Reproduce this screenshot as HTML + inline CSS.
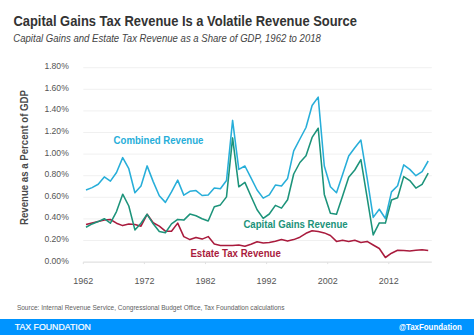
<!DOCTYPE html>
<html><head><meta charset="utf-8">
<style>
html,body{margin:0;padding:0;background:#fff;}
body{width:474px;height:335px;overflow:hidden;position:relative;font-family:"Liberation Sans",sans-serif;}
svg{position:absolute;left:0;top:0;}
.yl{font-size:8.6px;fill:#555555;}
.xl{font-size:9px;fill:#555555;}
</style></head><body>
<svg width="474" height="335" viewBox="0 0 474 335" font-family="Liberation Sans, sans-serif">
<text x="13.4" y="25.8" font-size="14.2" font-weight="bold" fill="#333333" textLength="343.6" lengthAdjust="spacingAndGlyphs">Capital Gains Tax Revenue Is a Volatile Revenue Source</text>
<text x="13.3" y="42.0" font-size="10.2" font-style="italic" fill="#444444" textLength="307.6" lengthAdjust="spacingAndGlyphs">Capital Gains and Estate Tax Revenue as a Share of GDP, 1962 to 2018</text>
<line x1="83.3" x2="431.8" y1="262.1" y2="262.1" stroke="#d9d9d9" stroke-width="1"/><line x1="83.3" x2="431.8" y1="240.5" y2="240.5" stroke="#f0f0f0" stroke-width="1"/><line x1="83.3" x2="431.8" y1="218.9" y2="218.9" stroke="#f0f0f0" stroke-width="1"/><line x1="83.3" x2="431.8" y1="197.3" y2="197.3" stroke="#f0f0f0" stroke-width="1"/><line x1="83.3" x2="431.8" y1="175.7" y2="175.7" stroke="#f0f0f0" stroke-width="1"/><line x1="83.3" x2="431.8" y1="154.1" y2="154.1" stroke="#f0f0f0" stroke-width="1"/><line x1="83.3" x2="431.8" y1="132.5" y2="132.5" stroke="#f0f0f0" stroke-width="1"/><line x1="83.3" x2="431.8" y1="110.9" y2="110.9" stroke="#f0f0f0" stroke-width="1"/><line x1="83.3" x2="431.8" y1="89.3" y2="89.3" stroke="#f0f0f0" stroke-width="1"/><line x1="83.3" x2="431.8" y1="67.7" y2="67.7" stroke="#f0f0f0" stroke-width="1"/>
<line x1="83.3" x2="83.3" y1="262.1" y2="264.1" stroke="#e0e0e0" stroke-width="1"/><line x1="144.4" x2="144.4" y1="262.1" y2="264.1" stroke="#e0e0e0" stroke-width="1"/><line x1="205.5" x2="205.5" y1="262.1" y2="264.1" stroke="#e0e0e0" stroke-width="1"/><line x1="266.6" x2="266.6" y1="262.1" y2="264.1" stroke="#e0e0e0" stroke-width="1"/><line x1="327.7" x2="327.7" y1="262.1" y2="264.1" stroke="#e0e0e0" stroke-width="1"/><line x1="388.8" x2="388.8" y1="262.1" y2="264.1" stroke="#e0e0e0" stroke-width="1"/>
<text x="68.8" y="263.5" text-anchor="end" class="yl">0.00%</text><text x="68.8" y="241.9" text-anchor="end" class="yl">0.20%</text><text x="68.8" y="220.3" text-anchor="end" class="yl">0.40%</text><text x="68.8" y="198.7" text-anchor="end" class="yl">0.60%</text><text x="68.8" y="177.1" text-anchor="end" class="yl">0.80%</text><text x="68.8" y="155.5" text-anchor="end" class="yl">1.00%</text><text x="68.8" y="133.9" text-anchor="end" class="yl">1.20%</text><text x="68.8" y="112.3" text-anchor="end" class="yl">1.40%</text><text x="68.8" y="90.7" text-anchor="end" class="yl">1.60%</text><text x="68.8" y="69.1" text-anchor="end" class="yl">1.80%</text>
<text x="83.3" y="283.6" text-anchor="middle" class="xl">1962</text><text x="144.4" y="283.6" text-anchor="middle" class="xl">1972</text><text x="205.5" y="283.6" text-anchor="middle" class="xl">1982</text><text x="266.6" y="283.6" text-anchor="middle" class="xl">1992</text><text x="327.7" y="283.6" text-anchor="middle" class="xl">2002</text><text x="388.8" y="283.6" text-anchor="middle" class="xl">2012</text>
<text transform="translate(27.5,225) rotate(-90)" font-size="11" font-weight="bold" fill="#4a4a4a" textLength="135" lengthAdjust="spacingAndGlyphs">Revenue as a Percent of GDP</text>
<polyline fill="none" stroke="#a91b3d" stroke-width="1.55" stroke-linejoin="round" points="86.0,224.6 92.1,223.1 98.2,221.6 104.3,220.1 110.4,219.5 116.5,223.2 122.7,225.6 128.8,224.0 134.9,224.6 141.0,226.2 147.1,214.3 153.2,222.8 159.3,226.1 165.4,231.2 171.5,231.3 177.7,223.1 183.8,236.6 189.9,239.6 196.0,237.4 202.1,239.1 208.2,236.6 214.3,244.0 220.4,245.5 226.5,245.5 232.6,245.5 238.8,245.0 244.9,246.3 251.0,244.3 257.1,241.8 263.2,242.9 269.3,242.6 275.4,241.3 281.5,239.6 287.6,241.1 293.7,239.6 299.9,237.2 306.0,233.3 312.1,230.7 318.2,231.4 324.3,232.9 330.4,235.5 336.5,241.4 342.6,240.3 348.7,241.4 354.8,240.3 360.9,242.4 367.1,241.4 373.2,245.0 379.3,248.5 385.4,257.5 391.5,253.2 397.6,250.3 403.7,250.5 409.8,251.0 415.9,250.3 422.1,249.7 428.2,250.5"/>
<polyline fill="none" stroke="#27aed9" stroke-width="1.55" stroke-linejoin="round" points="86.0,190.0 92.1,187.6 98.2,184.3 104.3,176.9 110.4,181.1 116.5,172.5 122.7,157.6 128.8,168.7 134.9,192.7 141.0,186.0 147.1,165.9 153.2,181.6 159.3,195.8 165.4,202.4 171.5,191.9 177.7,180.1 183.8,195.1 189.9,191.3 196.0,190.6 202.1,195.5 208.2,194.9 214.3,188.1 220.4,188.7 226.5,180.5 232.6,120.4 238.8,169.4 244.9,166.0 251.0,177.9 257.1,190.0 263.2,198.1 269.3,194.9 275.4,185.1 281.5,185.9 287.6,178.4 293.7,150.9 299.9,139.0 306.0,127.5 312.1,105.5 318.2,97.1 324.3,166.0 330.4,186.7 336.5,192.7 342.6,174.6 348.7,156.0 354.8,147.8 360.9,140.1 367.1,177.9 373.2,217.4 379.3,209.2 385.4,218.5 391.5,191.9 397.6,185.7 403.7,164.9 409.8,169.4 415.9,175.7 422.1,171.6 428.2,161.0"/>
<polyline fill="none" stroke="#1c937a" stroke-width="1.55" stroke-linejoin="round" points="86.0,227.2 92.1,223.9 98.2,221.6 104.3,218.7 110.4,223.2 116.5,211.6 122.7,194.2 128.8,206.0 134.9,229.9 141.0,223.2 147.1,214.3 153.2,223.8 159.3,231.6 165.4,232.8 171.5,223.9 177.7,219.4 183.8,220.1 189.9,214.1 196.0,215.7 202.1,218.7 208.2,221.0 214.3,206.7 220.4,204.9 226.5,196.9 232.6,137.9 238.8,186.8 244.9,182.4 251.0,196.2 257.1,209.7 263.2,218.4 269.3,214.0 275.4,205.4 281.5,208.1 287.6,199.7 293.7,174.0 299.9,162.5 306.0,155.8 312.1,137.4 318.2,128.2 324.3,194.4 330.4,213.3 336.5,214.3 342.6,196.0 348.7,177.2 354.8,170.0 360.9,159.6 367.1,197.3 373.2,234.9 379.3,222.9 385.4,223.1 391.5,200.0 397.6,197.8 403.7,176.6 409.8,180.6 415.9,188.1 422.1,184.3 428.2,173.2"/>
<text x="113.6" y="144" font-size="10.4" font-weight="bold" fill="#27aed9" textLength="89.8" lengthAdjust="spacingAndGlyphs">Combined Revenue</text>
<text x="243.4" y="228" font-size="10.4" font-weight="bold" fill="#1c937a" textLength="104.3" lengthAdjust="spacingAndGlyphs">Capital Gains Revenue</text>
<text x="190.4" y="257.4" font-size="10.4" font-weight="bold" fill="#a91b3d" textLength="90.5" lengthAdjust="spacingAndGlyphs">Estate Tax Revenue</text>
<text x="16.9" y="310.4" font-size="7.4" fill="#5e5e5e" textLength="267.5" lengthAdjust="spacingAndGlyphs">Source: Internal Revenue Service, Congressional Budget Office, Tax Foundation calculations</text>
<rect x="0" y="319.0" width="474" height="17" fill="#0094ff"/>
<text x="14.7" y="330.0" font-size="9" fill="#fff" stroke="#fff" stroke-width="0.2" textLength="76.2" lengthAdjust="spacingAndGlyphs">TAX FOUNDATION</text>
<text x="398.9" y="330.4" font-size="9.2" font-weight="bold" fill="#fff" textLength="7.2" lengthAdjust="spacingAndGlyphs">@</text><text x="406.0" y="330.1" font-size="9" font-weight="bold" fill="#fff" textLength="55.8" lengthAdjust="spacingAndGlyphs">TaxFoundation</text>
</svg>
</body></html>
